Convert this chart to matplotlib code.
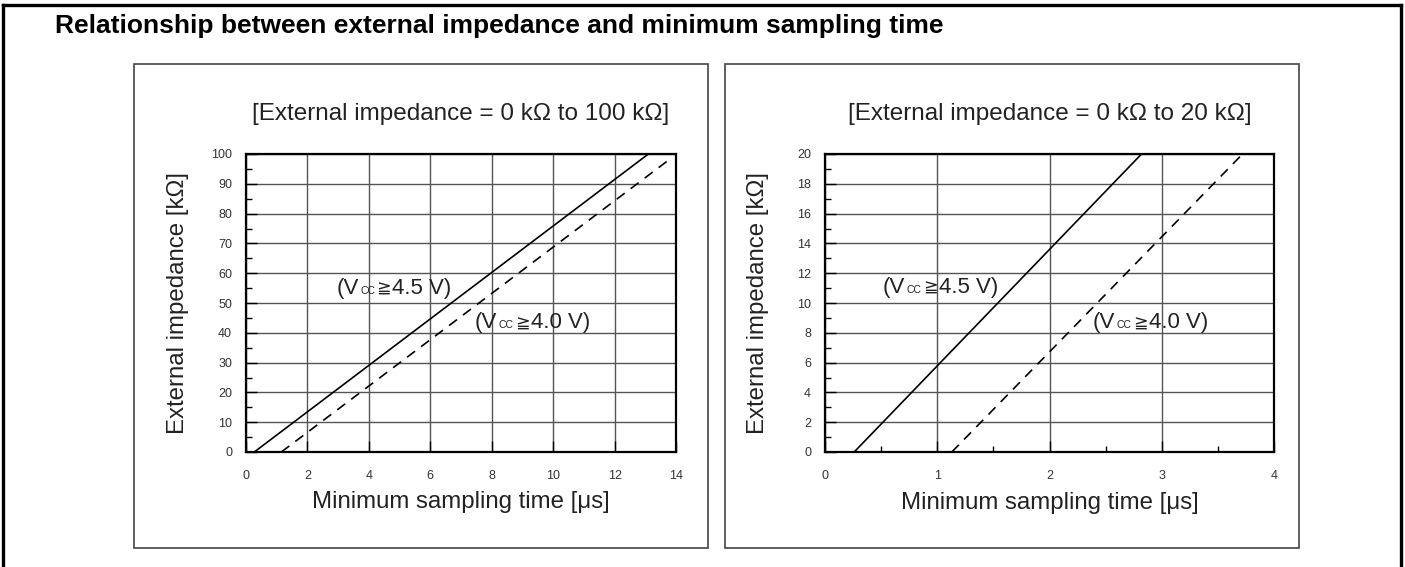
import matplotlib
matplotlib.use('Agg')
import matplotlib.pyplot as plt
from matplotlib.patches import Rectangle
from matplotlib.lines import Line2D
from matplotlib.offsetbox import TextArea, HPacker, AnnotationBbox
from matplotlib.ticker import MultipleLocator

plt.rcParams['font.family'] = ['Liberation Sans', 'DejaVu Sans']

# line end points
left_x_45 = [0.27, 13.1]
left_y_45 = [0, 100]
left_x_40 = [1.15, 13.7]
left_y_40 = [0, 97.5]

right_x_45 = [0.26, 2.82]
right_y_45 = [0, 20]
right_x_40 = [1.13, 3.72]
right_y_40 = [0, 20]

title = 'Relationship between external impedance and minimum sampling time'
left_sub = '[External impedance = 0 k\u03a9 to 100 k\u03a9]'
right_sub = '[External impedance = 0 k\u03a9 to 20 k\u03a9]'
ylab = 'External impedance [k\u03a9]'
xlab = 'Minimum sampling time [\u03bcs]'

W, H = 1405, 567
TXT = '#222222'


def fx(px):
    return px / W


def fy(py):
    return 1 - py / H


def vcc_label(ax, x, y, volts):
    parts = [
        TextArea('(V', textprops=dict(fontsize=16, color=TXT)),
        TextArea('CC', textprops=dict(fontsize=7.5, color=TXT)),
        TextArea('\u2267', textprops=dict(fontsize=12.5, color=TXT)),
        TextArea(volts + ' V)', textprops=dict(fontsize=16, color=TXT)),
    ]
    box = HPacker(children=parts, align='baseline', pad=0, sep=1)
    ab = AnnotationBbox(box, (x, y), xycoords='data', frameon=False,
                        box_alignment=(0.5, 0.5), pad=0)
    ax.add_artist(ab)


def setup(ax, xmax, xstep, ymax, ystep, yminor, xminor, sub):
    ax.set_xlim(0, xmax)
    ax.set_ylim(0, ymax)
    ax.xaxis.set_major_locator(MultipleLocator(xstep))
    ax.yaxis.set_major_locator(MultipleLocator(ystep))
    ax.yaxis.set_minor_locator(MultipleLocator(yminor))
    if xminor:
        ax.xaxis.set_minor_locator(MultipleLocator(xminor))
    ax.grid(True, which='major', color='#555555', lw=1.0)
    ax.tick_params(which='major', direction='in', length=8, width=1,
                   labelsize=9, labelcolor='#333333', top=False, right=False)
    ax.tick_params(axis='y', which='major', pad=10)
    ax.tick_params(axis='x', which='major', pad=13)
    ax.tick_params(which='minor', direction='in', length=4, width=1,
                   top=False, right=False)
    for s in ax.spines.values():
        s.set_linewidth(1.6)
    ax.text(0.5, 1.135, sub, transform=ax.transAxes, ha='center',
            va='center', fontsize=17.5, color=TXT)


def main():
    fig = plt.figure(figsize=(W / 100, H / 100), dpi=100)

    # outer frame (left, top, right only)
    for xs, ys in [([fx(3), fx(3)], [0, fy(5)]),
                   ([fx(3), fx(1401)], [fy(5), fy(5)]),
                   ([fx(1401), fx(1401)], [fy(5), 0])]:
        fig.add_artist(Line2D(xs, ys, transform=fig.transFigure,
                              color='black', lw=2.4))

    # panel boxes
    for x0, x1 in [(134, 708), (725, 1299)]:
        fig.add_artist(Rectangle((fx(x0), fy(548)), fx(x1 - x0),
                                 (548 - 64) / H, transform=fig.transFigure,
                                 fill=False, ec='#444444', lw=1.2))

    fig.text(fx(55), fy(33), title, fontsize=19, fontweight='bold',
             ha='left', va='baseline', color='black')

    ax1 = fig.add_axes([fx(246), fy(452), fx(676 - 246), (452 - 154) / H])
    setup(ax1, 14, 2, 100, 10, 5, None, left_sub)
    ax1.plot(left_x_45, left_y_45, color='black', lw=1.2)
    ax1.plot(left_x_40, left_y_40, color='black', lw=1.2, ls=(0, (6, 4.5)))
    ax1.text(-0.158, 0.5, ylab, transform=ax1.transAxes, rotation=90,
             ha='center', va='center', fontsize=17.3, color=TXT)
    ax1.text(0.5, -0.168, xlab, transform=ax1.transAxes,
             ha='center', va='center', fontsize=17.3, color=TXT)
    vcc_label(ax1, 4.82, 55.0, '4.5')
    vcc_label(ax1, 9.33, 43.3, '4.0')

    ax2 = fig.add_axes([fx(825), fy(452), fx(1274 - 825), (452 - 154) / H])
    setup(ax2, 4, 1, 20, 2, 1, 0.5, right_sub)
    ax2.plot(right_x_45, right_y_45, color='black', lw=1.2)
    ax2.plot(right_x_40, right_y_40, color='black', lw=1.2, ls=(0, (6, 4.5)))
    ax2.text(-0.149, 0.5, ylab, transform=ax2.transAxes, rotation=90,
             ha='center', va='center', fontsize=17.3, color=TXT)
    ax2.text(0.501, -0.171, xlab, transform=ax2.transAxes,
             ha='center', va='center', fontsize=17.3, color=TXT)
    vcc_label(ax2, 1.03, 11.07, '4.5')
    vcc_label(ax2, 2.90, 8.66, '4.0')

    fig.savefig('out.png', dpi=100)


if __name__ == '__main__':
    main()
